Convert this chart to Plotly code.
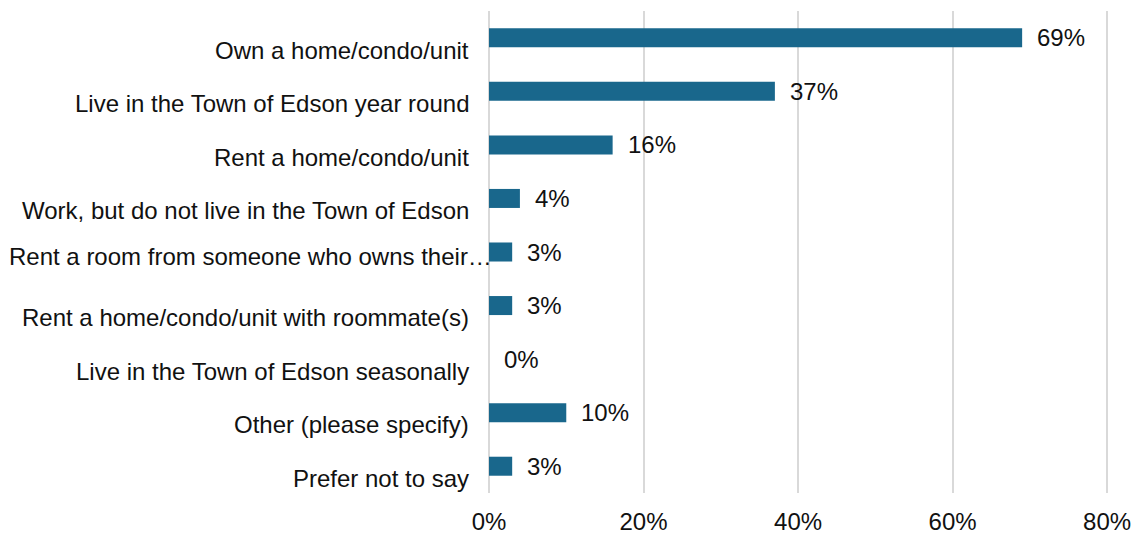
import plotly.graph_objects as go

# Survey responses: share of respondents in each living situation
categories = [
    "Own a home/condo/unit",
    "Live in the Town of Edson year round",
    "Rent a home/condo/unit",
    "Work, but do not live in the Town of Edson",
    "Rent a room from someone who owns their\u2026",
    "Rent a home/condo/unit with roommate(s)",
    "Live in the Town of Edson seasonally",
    "Other (please specify)",
    "Prefer not to say",
]
percentages = [69, 37, 16, 4, 3, 3, 0, 10, 3]
x_ticks = [0, 20, 40, 60, 80]
x_tick_labels = ["0%", "20%", "40%", "60%", "80%"]

BAR_COLOR = "#19678c"
GRID_COLOR = "#d9d9d9"
TEXT_COLOR = "#111111"
FONT = "Liberation Sans, Arial, sans-serif"
FONT_SIZE = 24

positions = list(range(len(categories)))

fig = go.Figure(
    go.Bar(
        x=percentages,
        y=positions,
        orientation="h",
        width=0.355,
        marker=dict(color=BAR_COLOR, line=dict(width=0)),
        hoverinfo="skip",
    )
)

# Category names: set slightly below their bars; a truncated (ellipsised)
# name keeps the first line of its wrapped text, so it sits higher and runs
# up to the axis.
for pos, name in zip(positions, categories):
    truncated = name.endswith("\u2026")
    fig.add_annotation(
        x=0,
        xref="paper",
        y=pos + (0.08 if truncated else 0.23),
        yref="y",
        text=name,
        showarrow=False,
        xanchor="right",
        yanchor="middle",
        xshift=5 if truncated else -18,
        font=dict(family=FONT, size=FONT_SIZE, color=TEXT_COLOR),
    )

# Value labels just past the end of each bar
for pos, val in zip(positions, percentages):
    fig.add_annotation(
        x=val,
        y=pos,
        text=f"{val}%",
        showarrow=False,
        xanchor="left",
        yanchor="middle",
        xshift=13,
        font=dict(family=FONT, size=FONT_SIZE, color=TEXT_COLOR),
    )

fig.update_layout(
    width=1139,
    height=534,
    margin=dict(l=489, r=28, t=11, b=41, autoexpand=False),
    paper_bgcolor="white",
    plot_bgcolor="white",
    showlegend=False,
    font=dict(family=FONT, size=FONT_SIZE, color=TEXT_COLOR),
    xaxis=dict(
        range=[0, 80.5],
        tickvals=x_ticks,
        ticktext=x_tick_labels,
        showgrid=True,
        gridcolor=GRID_COLOR,
        gridwidth=2,
        zeroline=True,
        zerolinecolor=GRID_COLOR,
        zerolinewidth=2,
        showline=False,
        ticks="",
        ticklabelstandoff=12,
        automargin=False,
        fixedrange=True,
    ),
    yaxis=dict(
        range=[8.5, -0.5],
        showticklabels=False,
        showgrid=False,
        zeroline=False,
        showline=False,
        ticks="",
        automargin=False,
        fixedrange=True,
    ),
)

fig.write_html("out.html")
